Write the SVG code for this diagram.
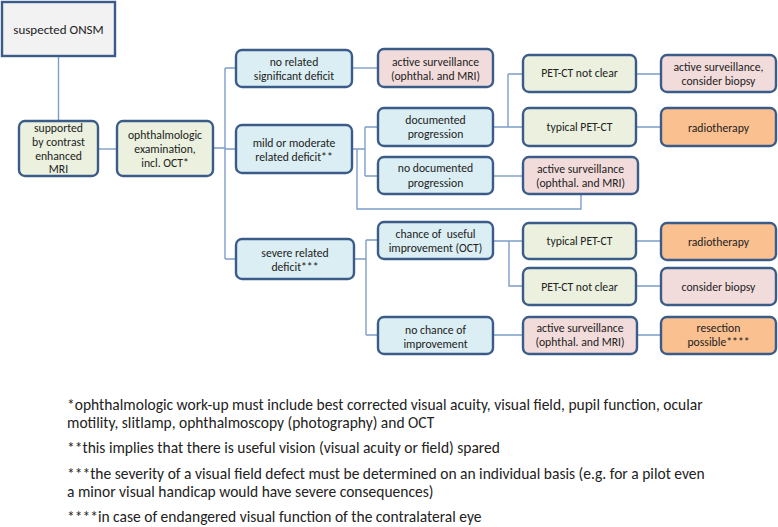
<svg xmlns="http://www.w3.org/2000/svg" width="778" height="527" viewBox="0 0 778 527">
<style>
.box{stroke:#3B5B88;stroke-width:2.4}
.blue{fill:#DAEEF3}
.olive{fill:#EBF1DE}
.pink{fill:#F2DCDB}
.orange{fill:#FAC090}
.gray{fill:#F2F2F2}
text{font-family:Carlito,Lato,"Liberation Sans",sans-serif;fill:#222}
.t{font-size:11.7px;text-anchor:middle;white-space:pre}
.big{font-size:13px;text-anchor:middle}
.fn{font-size:15.5px}
#connectors path{fill:none;stroke:#7E9DC8;stroke-width:1.4}
</style>
<rect width="778" height="527" fill="#fff"/>
<g id="connectors">
<path d="M58.5,56 V125"/>
<path d="M98,149 H117"/>
<path d="M213,148 H225 M225,68 V259 M225,68 H236 M225,149 H236 M225,259 H236"/>
<path d="M352,68 H378"/>
<path d="M352,149 H365 M365,127 V176 M365,127 H378 M365,176 H378"/>
<path d="M357,149 V209 H581 V194"/>
<path d="M493,127 H508 M508,74 V127 M508,74 H523 M508,127 H523"/>
<path d="M636,74 H661 M636,127 H661"/>
<path d="M493,176 H523"/>
<path d="M354,259 H366 M366,240 V335 M366,240 H378 M366,335 H378"/>
<path d="M493,241 H509 V286 H523 M509,241 H523"/>
<path d="M636,241 H661 M636,286 H661"/>
<path d="M493,335 H523 M637,335 H661"/>
</g>
<g id="n_onsm"><rect class="box gray" x="2" y="2" width="113" height="54"/><text class="big" x="58.5" y="34">suspected ONSM</text></g>
<g id="n_mri"><rect class="box olive" x="19" y="121" width="79" height="55" rx="6"/><text class="t" x="58.5" y="132">supported</text><text class="t" x="58.5" y="146">by contrast</text><text class="t" x="58.5" y="160">enhanced</text><text class="t" x="58.5" y="173">MRI</text></g>
<g id="n_ophth"><rect class="box olive" x="117" y="121" width="96" height="55" rx="6"/><text class="t" x="165" y="139">ophthalmologic</text><text class="t" x="165" y="153">examination,</text><text class="t" x="165" y="167">incl. OCT*</text></g>
<g id="n_norel"><rect class="box blue" x="236" y="50" width="116" height="37" rx="6"/><text class="t" x="294" y="66">no related</text><text class="t" x="294" y="80">significant deficit</text></g>
<g id="n_mild"><rect class="box blue" x="236" y="125" width="116" height="48" rx="6"/><text class="t" x="294" y="147">mild or moderate</text><text class="t" x="294" y="161">related deficit**</text></g>
<g id="n_severe"><rect class="box blue" x="236" y="239" width="118" height="40" rx="6"/><text class="t" x="295" y="257">severe related</text><text class="t" x="295" y="271">deficit***</text></g>
<g id="n_as1"><rect class="box pink" x="378" y="49" width="115" height="38" rx="6"/><text class="t" x="435.5" y="66">active surveillance</text><text class="t" x="435.5" y="80">(ophthal. and MRI)</text></g>
<g id="n_docprog"><rect class="box blue" x="378" y="108" width="115" height="38" rx="6"/><text class="t" x="435.5" y="124">documented</text><text class="t" x="435.5" y="138">progression</text></g>
<g id="n_nodocprog"><rect class="box blue" x="378" y="157" width="115" height="37" rx="6"/><text class="t" x="435.5" y="172">no documented</text><text class="t" x="435.5" y="187">progression</text></g>
<g id="n_chance"><rect class="box blue" x="378" y="222" width="115" height="37" rx="6"/><text class="t" x="435.5" y="238">chance of  useful</text><text class="t" x="435.5" y="252">improvement (OCT)</text></g>
<g id="n_nochance"><rect class="box blue" x="378" y="317" width="115" height="37" rx="6"/><text class="t" x="435.5" y="334">no chance of</text><text class="t" x="435.5" y="348">improvement</text></g>
<g id="n_petnc1"><rect class="box olive" x="523" y="55" width="113" height="37" rx="6"/><text class="t" x="579.5" y="77">PET-CT not clear</text></g>
<g id="n_typ1"><rect class="box olive" x="523" y="108" width="113" height="38" rx="6"/><text class="t" x="579.5" y="131">typical PET-CT</text></g>
<g id="n_as2"><rect class="box pink" x="523" y="157" width="115" height="37" rx="6"/><text class="t" x="580.5" y="173">active surveillance</text><text class="t" x="580.5" y="187">(ophthal. and MRI)</text></g>
<g id="n_typ2"><rect class="box olive" x="523" y="223" width="113" height="36" rx="6"/><text class="t" x="579.5" y="245">typical PET-CT</text></g>
<g id="n_petnc2"><rect class="box olive" x="523" y="268" width="113" height="37" rx="6"/><text class="t" x="579.5" y="291">PET-CT not clear</text></g>
<g id="n_as3"><rect class="box pink" x="523" y="317" width="114" height="37" rx="6"/><text class="t" x="580" y="332">active surveillance</text><text class="t" x="580" y="346">(ophthal. and MRI)</text></g>
<g id="n_asbiopsy"><rect class="box pink" x="661" y="55" width="115" height="37" rx="6"/><text class="t" x="718.5" y="71">active surveillance,</text><text class="t" x="718.5" y="85">consider biopsy</text></g>
<g id="n_radio1"><rect class="box orange" x="661" y="108" width="115" height="38" rx="6"/><text class="t" x="718.5" y="132">radiotherapy</text></g>
<g id="n_radio2"><rect class="box orange" x="661" y="223" width="115" height="37" rx="6"/><text class="t" x="718.5" y="246">radiotherapy</text></g>
<g id="n_biopsy"><rect class="box pink" x="661" y="268" width="115" height="37" rx="6"/><text class="t" x="718.5" y="291">consider biopsy</text></g>
<g id="n_resect"><rect class="box orange" x="661" y="317" width="115" height="37" rx="6"/><text class="t" x="718.5" y="332">resection</text><text class="t" x="718.5" y="346">possible****</text></g>
<g id="footnotes">
<text class="fn" x="67" y="410">*ophthalmologic work-up must include best corrected visual acuity, visual field, pupil function, ocular</text>
<text class="fn" x="67" y="428">motility, slitlamp, ophthalmoscopy (photography) and OCT</text>
<text class="fn" x="67" y="453">**this implies that there is useful vision (visual acuity or field) spared</text>
<text class="fn" x="67" y="479">***the severity of a visual field defect must be determined on an individual basis (e.g. for a pilot even</text>
<text class="fn" x="67" y="497">a minor visual handicap would have severe consequences)</text>
<text class="fn" x="67" y="522">****in case of endangered visual function of the contralateral eye</text>
</g>
</svg>
